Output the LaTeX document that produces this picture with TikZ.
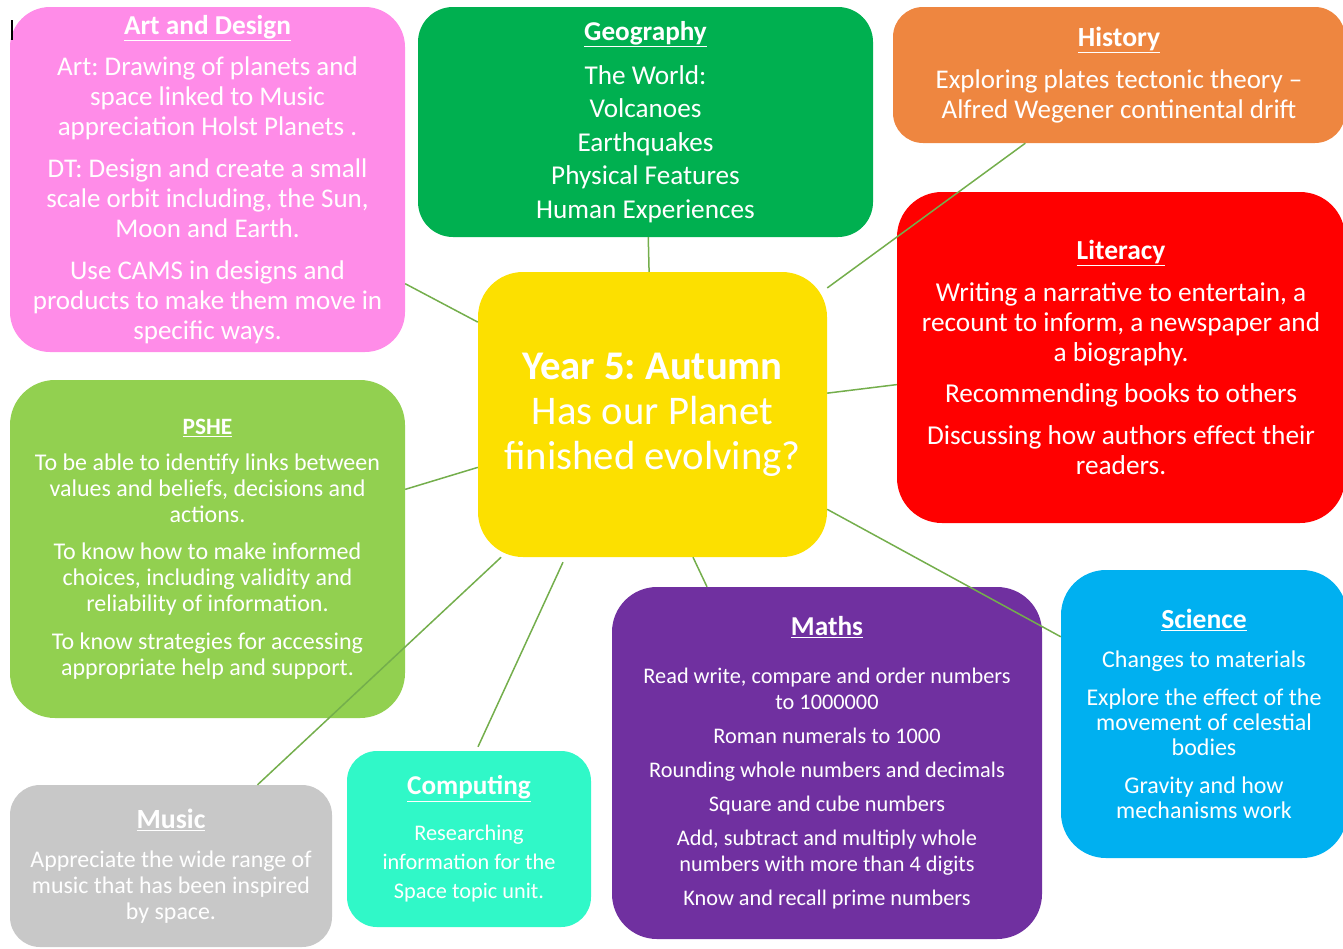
\documentclass[tikz,border=0pt]{standalone}
\usepackage{fontspec}
\setmainfont{Carlito}
\usetikzlibrary{calc}
\definecolor{cart}{HTML}{FF8CE8}
\definecolor{cgeo}{HTML}{00B050}
\definecolor{chist}{HTML}{EE8640}
\definecolor{clit}{HTML}{FF0000}
\definecolor{ccen}{HTML}{FCE000}
\definecolor{cpshe}{HTML}{92D050}
\definecolor{csci}{HTML}{00B0F0}
\definecolor{cmaths}{HTML}{7030A0}
\definecolor{ccomp}{HTML}{30F8C8}
\definecolor{cmusic}{HTML}{C8C8C8}
\definecolor{linkgreen}{HTML}{74AE4C}
\newcommand\ttl[2]{{\fontsize{#1}{#1}\selectfont\underline{\textbf{#2}}}}
\frenchspacing
\begin{document}
\frenchspacing
\begin{tikzpicture}[x=1pt,y=-1pt,
  box/.style={rectangle, rounded corners=40pt, inner sep=0pt, align=center, text=white},
  link/.style={draw=linkgreen, line width=1.5pt}]
\useasboundingbox (0,0) rectangle (1343,948);
\clip (0,0) rectangle (1343,948);

\node[box, fill=cart, minimum width=395pt, minimum height=345pt, font=\fontsize{27}{30}\selectfont] (art) at (207.5,179.5)
 {\ttl{27.3}{Art and Design}\\[11pt]
  Art: Drawing of planets and\\ space linked to Music\\ appreciation Holst Planets .\\[12pt]
  DT: Design and create a small\\ scale orbit including, the Sun,\\ Moon and Earth.\\[12pt]
  Use CAMS in designs and\\ products to make them move in\\ specific ways.};

\node[box, rounded corners=35pt, fill=cgeo, minimum width=455pt, minimum height=230pt, font=\fontsize{27.2}{33.5}\selectfont] (geo) at (645.5,122)
 {\ttl{27.2}{Geography}\\[10pt]
  The World:\\ Volcanoes\\ Earthquakes\\ Physical Features\\ Human Experiences};

\node[box, rounded corners=30pt, fill=chist, minimum width=452pt, minimum height=136pt, font=\fontsize{27}{30}\selectfont] (hist) at (1119,75)
 {\ttl{27.7}{History}\\[12pt]
  Exploring plates tectonic theory --\\ Alfred Wegener continental drift};

\node[box, rounded corners=45pt, fill=clit, minimum width=448pt, minimum height=331pt, font=\fontsize{27.3}{30}\selectfont] (lit) at (1121,357.5)
 {\ttl{27.5}{Literacy}\\[12pt]
  Writing a narrative to entertain, a\\ recount to inform, a newspaper and\\ a biography.\\[11pt]
  Recommending books to others\\[12pt]
  Discussing how authors effect their\\ readers.};

\node[box, rounded corners=45pt, fill=ccen, minimum width=349pt, minimum height=285pt, font=\fontsize{40.7}{45}\selectfont] (cen) at (652.5,414.5)
 {\textbf{Year 5: Autumn}\\ Has our Planet\\ finished evolving?};

\node[box, rounded corners=45pt, fill=cpshe, minimum width=395pt, minimum height=338pt, font=\fontsize{24}{26}\selectfont] (pshe) at (207.5,549)
 {\ttl{23.4}{PSHE}\\[10pt]
  To be able to identify links between\\ values and beliefs, decisions and\\ actions.\\[11pt]
  To know how to make informed\\ choices, including validity and\\ reliability of information.\\[12pt]
  To know strategies for accessing\\ appropriate help and support.};

\node[box, rounded corners=45pt, fill=csci, minimum width=286pt, minimum height=288pt, font=\fontsize{24}{25}\selectfont] (sci) at (1204,714)
 {\ttl{27.6}{Science}\\[14pt]
  Changes to materials\\[13pt]
  Explore the effect of the\\ movement of celestial\\ bodies\\[13pt]
  Gravity and how\\ mechanisms work};

\node[box, rounded corners=45pt, fill=cmaths, minimum width=430pt, minimum height=352pt, font=\fontsize{22.3}{26}\selectfont] (maths) at (827,763)
 {\ttl{27.3}{Maths}\\[22pt]
  Read write, compare and order numbers\\ to 1000000\\[8pt]
  Roman numerals to 1000\\[8pt]
  Rounding whole numbers and decimals\\[8pt]
  Square and cube numbers\\[8pt]
  Add, subtract and multiply whole\\ numbers with more than 4 digits\\[8pt]
  Know and recall prime numbers};

\node[box, rounded corners=30pt, fill=ccomp, minimum width=244pt, minimum height=176pt, font=\fontsize{22.3}{29}\selectfont] (comp) at (469,839)
 {\ttl{27.2}{Computing}\\[17pt]
  Researching\\ information for the\\ Space topic unit.};

\node[box, rounded corners=30pt, fill=cmusic, minimum width=322pt, minimum height=162pt, font=\fontsize{23.9}{26}\selectfont] (music) at (171,866)
 {\ttl{27.8}{Music}\\[13pt]
  Appreciate the wide range of\\ music that has been inspired\\ by space.};

\draw[link] (cen) -- (art);
\draw[link] (cen) -- (geo);
\draw[link] (cen) -- (hist);
\draw[link] (cen) -- (lit);
\draw[link] (cen) -- (pshe);
\draw[link] (cen) -- (sci);
\draw[link] ($(cen.south)+(40.5,0)$) -- ($(maths.north)+(-120,0)$);
\draw[link] ($(cen.south)+(-89.5,5)$) -- ($(comp.north)+(9,-4)$);
\draw[link] (cen) -- (music);

\draw[black, line width=2pt] (12,20) -- (12,40);
\end{tikzpicture}
\end{document}
